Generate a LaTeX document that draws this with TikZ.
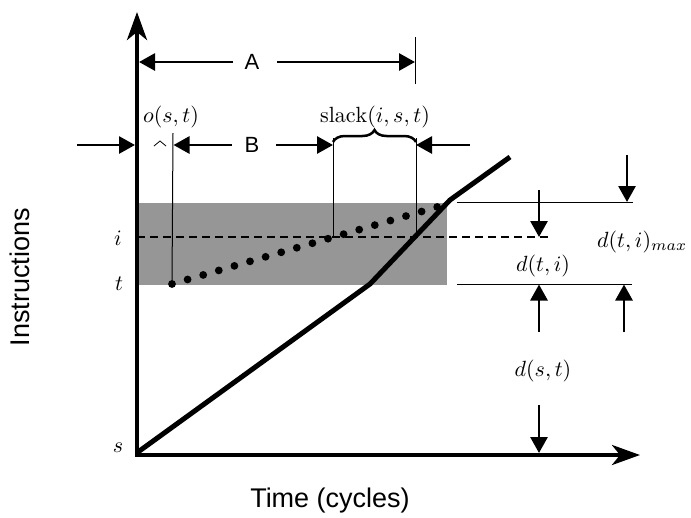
\documentclass[tikz,border=0pt]{standalone}
\usepackage{fontspec}
\usepackage{graphicx}
\newfontfamily\lsans{Liberation Sans}
\usetikzlibrary{arrows.meta,decorations.pathreplacing}
\definecolor{bandgray}{RGB}{150,150,150}
\newcommand{\mymath}[1]{\scalebox{2.2}{$#1$}}
\newcommand{\bigsans}{\lsans\fontsize{27}{32}\selectfont}
\newcommand{\medsans}{\lsans\fontsize{22}{26}\selectfont}
\begin{document}
\begin{tikzpicture}[x=1pt,y=-1pt,
  thinline/.style={line width=1pt},
  dimarrow/.style={line width=2.8pt,-{Triangle[length=16pt,width=17pt]}},
  axisline/.style={line width=4pt,-{Stealth[length=28pt,width=20pt,inset=8pt]}},
  mlbl/.style={inner sep=0pt},
  slbl/.style={font=\medsans,inner sep=0pt},
  dotmark/.style={fill=black}]
\useasboundingbox (0,0) rectangle (691,517);
% shaded band
\fill[bandgray] (137,203) rectangle (447,285);
% key points
\coordinate (O) at (137,455);
\coordinate (Ytip) at (137,12);
\coordinate (Xtip) at (640,455);
\coordinate (iL) at (137,237);
\coordinate (iR) at (550,237);
% dashed i line
\draw[line width=1.3pt,dash pattern=on 8pt off 5pt] (iL) -- (iR);
% dotted line
\foreach \k in {0,...,17}{
  \fill[dotmark] ({172+15.6*\k},{284-4.53*\k}) circle (3.9pt);
}
\coordinate (d0) at (172,284);
% bold curve
\coordinate (c0) at (138,452);
\coordinate (c1) at (370,284);
\coordinate (c2) at (450,200);
\coordinate (c3) at (510,157);
\draw[line width=5pt] (c0) -- (c1) -- (c2) -- (c3);
% axes
\draw[axisline] (O) -- (Ytip);
\draw[axisline] ([xshift=-2pt]O) -- (Xtip);
% labels on axes
\node[mlbl] (li) at (118,238) {\mymath{i}};
\node[mlbl] (lt) at (119,284) {\mymath{t}};
\node[mlbl] (ls) at (118,448) {\mymath{s}};
\node[font=\bigsans,inner sep=0pt,rotate=90] (ylab) at (20,277) {Instructions};
\node[font=\bigsans,inner sep=0pt] (xlab) at (330,501) {Time (cycles)};
% A row
\coordinate (At) at (415,37); \coordinate (Ab) at (415,84);
\draw[thinline] (At) -- (Ab);
\node[slbl] (A) at (252,62) {A};
\coordinate (A1) at (233,62); \coordinate (A1t) at (139,62);
\coordinate (A2) at (277,62); \coordinate (A2t) at (415,62);
\draw[dimarrow] (A1) -- (A1t);
\draw[dimarrow] (A2) -- (A2t);
% B row
\node[slbl] (B) at (252,145) {B};
\coordinate (t1) at (173,133);
\coordinate (t2) at (333,138); \coordinate (t2b) at (333,237);
\coordinate (t3) at (416,138); \coordinate (t3b) at (416,237);
\draw[thinline] (t1) -- (d0);
\draw[thinline] (t2) -- (t2b);
\draw[thinline] (t3) -- (t3b);
\coordinate (b0) at (77,145); \coordinate (b0t) at (135,145);
\coordinate (b1) at (232,145); \coordinate (b1t) at (173.5,145);
\coordinate (b2) at (276,145); \coordinate (b2t) at (333,145);
\coordinate (b3) at (470,145); \coordinate (b3t) at (416,145);
\draw[dimarrow] (b0) -- (b0t);
\draw[dimarrow] (b1) -- (b1t);
\draw[dimarrow] (b2) -- (b2t);
\draw[dimarrow] (b3) -- (b3t);
\draw[line width=0.8pt] (154,146) -- (160,141) -- (166,146);
\draw[line width=2.5pt,decorate,decoration={brace,amplitude=12pt}] (333,142) -- (416,142);
\node[mlbl] (os) at (171,117) {\mymath{o(s,t)}};
\node[mlbl] (sl) at (375,117) {\mymath{\mathrm{slack}(i,s,t)}};
% right side dimension lines
\coordinate (u0) at (457,202); \coordinate (u1) at (633,202);
\coordinate (l0) at (457,284); \coordinate (l1) at (632,284);
\draw[thinline] (u0) -- (u1);
\draw[thinline] (l0) -- (l1);
\coordinate (r1) at (539,190); \coordinate (r1t) at (539,237);
\coordinate (r2) at (627,155); \coordinate (r2t) at (627,202);
\coordinate (r3) at (539,332); \coordinate (r3t) at (539,284.5);
\coordinate (r4) at (624,332); \coordinate (r4t) at (624,284.5);
\coordinate (r5) at (539,405); \coordinate (r5t) at (539,453);
\draw[dimarrow] (r1) -- (r1t);
\draw[dimarrow] (r2) -- (r2t);
\draw[dimarrow] (r3) -- (r3t);
\draw[dimarrow] (r4) -- (r4t);
\draw[dimarrow] (r5) -- (r5t);
\node[mlbl] (dti) at (543,266) {\mymath{d(t,i)}};
\node[mlbl,anchor=base west] (dmax) at (597,247) {\mymath{d(t,i)_{max}}};
\node[mlbl] (dst) at (543,371) {\mymath{d(s,t)}};
\end{tikzpicture}
\end{document}
